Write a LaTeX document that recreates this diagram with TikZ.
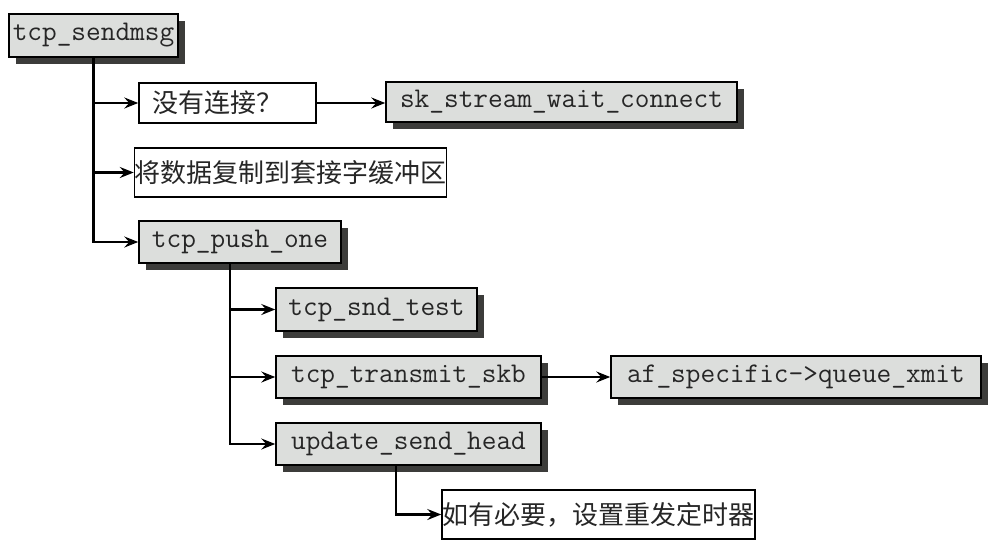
\documentclass[tikz,border=0pt]{standalone}
\usepackage{fontspec}
\newfontfamily\cjk{Noto Sans CJK SC}
\usetikzlibrary{arrows.meta,shadows}
\definecolor{boxgray}{RGB}{220,222,220}
\definecolor{shadowgray}{RGB}{60,60,58}

\begin{document}
\begin{tikzpicture}[x=1pt,y=-1pt,
		func/.style={draw, line width=1.5pt, fill=boxgray, inner sep=0pt, text=black!85,
			font=\fontsize{28.5}{32}\selectfont\ttfamily,
			drop shadow={shadow xshift=7pt, shadow yshift=-7pt, fill=shadowgray, opacity=1}},
		note/.style={draw, line width=1.5pt, fill=white, inner sep=0pt, text=black!85,
			font=\fontsize{26}{30}\selectfont\cjk},
		arr/.style={line width=2.3pt, -{Stealth[length=14pt,width=11pt,inset=5pt]}}]
			%%%%% START %%%%%
			
			\useasboundingbox (0, 0) rectangle (996, 542);
			
			\node[func, minimum width=169pt, minimum height=43pt] (sendmsg) at (93.5, 35.5) {tcp\_sendmsg};
			
			\node[note, minimum height=40pt, inner xsep=13pt, text width=151pt, align=left] (noconn) at (227.5, 103) {没有连接？};
			\node[func, minimum width=351pt, minimum height=40pt] (wait) at (561.5, 102) {sk\_stream\_wait\_connect};
			
			\node[note, minimum width=303pt, minimum height=49pt] (copy) at (290.5, 172.5) {将数据复制到套接字缓冲区};
			
			\node[func, minimum width=202pt, minimum height=42pt] (pushone) at (240, 242) {tcp\_push\_one};
			
			\node[func, minimum width=201pt, minimum height=43pt] (sndtest) at (376.5, 309.5) {tcp\_snd\_test};
			\node[func, minimum width=265pt, minimum height=42pt] (transmit) at (408.5, 377) {tcp\_transmit\_skb};
			\node[func, minimum width=370pt, minimum height=42pt] (queue) at (796, 377) {af\_specific->queue\_xmit};
			\node[func, minimum width=265pt, minimum height=42pt] (update) at (408.5, 444) {update\_send\_head};
			
			\node[note, minimum width=313pt, minimum height=49pt] (timer) at (598.5, 514.5) {如有必要，设置重发定时器};
			
			% calls from tcp_sendmsg
			\draw[arr] (sendmsg.south) |- (noconn.west);
			\draw[arr] (sendmsg.south) |- (copy.west);
			\draw[arr] (sendmsg.south) |- (pushone.west);
			\draw[arr] (noconn.east) -- (noconn.east -| wait.west);
			
			% calls from tcp_push_one
			\draw[arr] ([xshift=-10pt]pushone.south) |- (sndtest.west);
			\draw[arr] ([xshift=-10pt]pushone.south) |- (transmit.west);
			\draw[arr] ([xshift=-10pt]pushone.south) |- (update.west);
			\draw[arr] (transmit.east) -- (queue.west);
			
			\draw[arr] ([xshift=-12.5pt]update.south) |- (timer.west);
			
			%%%%% END %%%%%
		\end{tikzpicture}
\end{document}
